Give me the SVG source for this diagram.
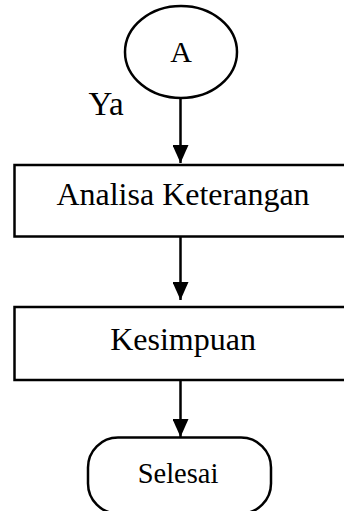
<svg xmlns="http://www.w3.org/2000/svg" width="344" height="511" viewBox="0 0 344 511">
<style>
.s{fill:#fff;stroke:#000;stroke-width:2.5}
.t{font-family:"Liberation Serif","Times New Roman",serif;fill:#000;text-anchor:middle}
.c{stroke:#000;stroke-width:2.5;fill:none}
</style>
<defs>
<marker id="ah" viewBox="0 0 18 16" refX="18" refY="8" markerWidth="18" markerHeight="16" markerUnits="userSpaceOnUse" orient="auto">
<path d="M0,0 L18,8 L0,16 Z" fill="#000"/>
</marker>
</defs>
<g id="connectors">
<line class="c" x1="180.5" y1="98" x2="180.5" y2="163" marker-end="url(#ah)"/>
<line class="c" x1="180.5" y1="237" x2="180.5" y2="300" marker-end="url(#ah)"/>
<line class="c" x1="180.5" y1="381" x2="180.5" y2="437" marker-end="url(#ah)"/>
</g>
<g id="nodeA">
<ellipse class="s" cx="181" cy="52" rx="56" ry="46"/>
<text class="t" x="181" y="62" font-size="30">A</text>
</g>
<g id="labelYa">
<text class="t" x="106" y="115" font-size="33">Ya</text>
</g>
<g id="analisa">
<rect class="s" x="14.5" y="165" width="340" height="71.5"/>
<text class="t" x="183" y="205" font-size="32">Analisa Keterangan</text>
</g>
<g id="kesimpuan">
<rect class="s" x="14.5" y="307" width="340" height="73"/>
<text class="t" x="183" y="350" font-size="32">Kesimpuan</text>
</g>
<g id="selesai">
<rect class="s" x="88" y="437.5" width="183" height="76" rx="30" ry="30"/>
<text class="t" x="178" y="483" font-size="28.5">Selesai</text>
</g>
</svg>
